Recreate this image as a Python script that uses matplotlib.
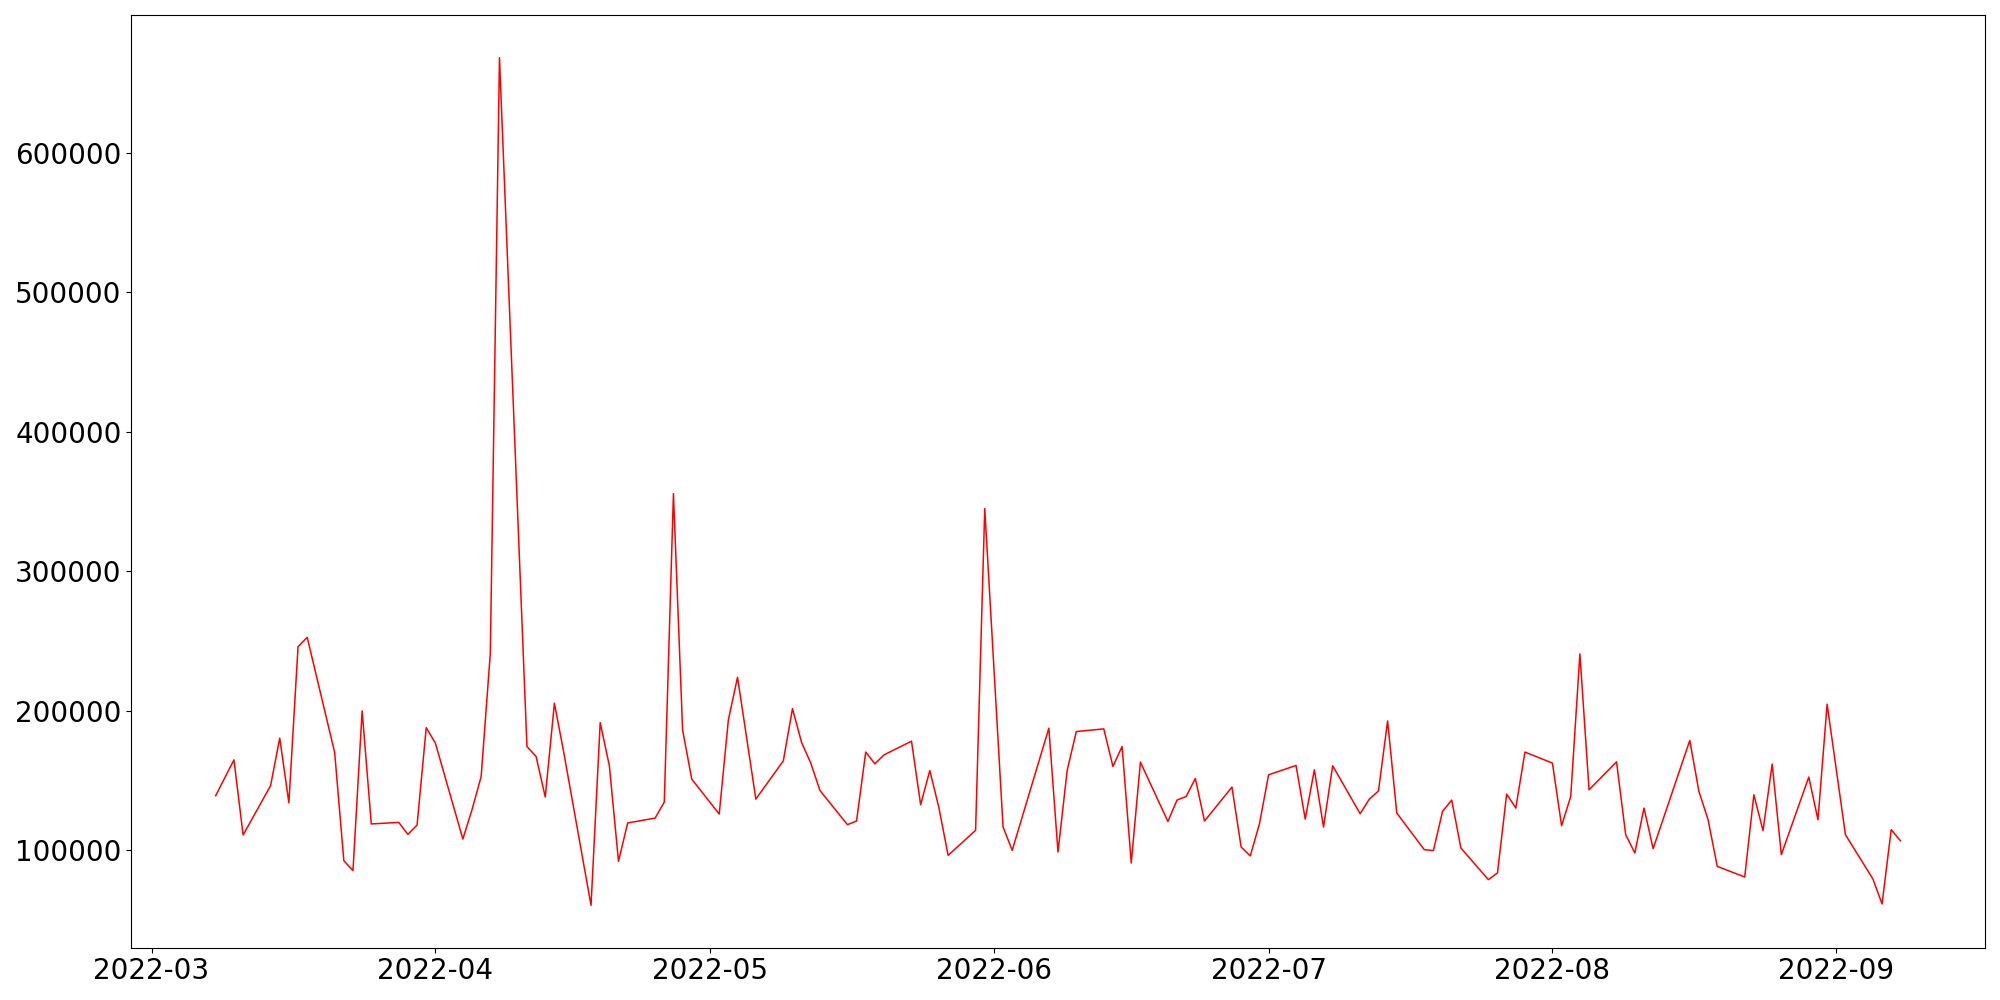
import matplotlib
matplotlib.use("Agg")
import matplotlib.pyplot as plt
import pandas as pd

# fechas y valores
fechas = [
    "2022-03-08", "2022-03-10", "2022-03-11", "2022-03-14", "2022-03-15", "2022-03-16",
    "2022-03-17", "2022-03-18", "2022-03-21", "2022-03-22", "2022-03-23", "2022-03-24",
    "2022-03-25", "2022-03-28", "2022-03-29", "2022-03-30", "2022-03-31", "2022-04-01",
    "2022-04-04", "2022-04-05", "2022-04-06", "2022-04-07", "2022-04-08", "2022-04-11",
    "2022-04-12", "2022-04-13", "2022-04-14", "2022-04-15", "2022-04-18", "2022-04-19",
    "2022-04-20", "2022-04-21", "2022-04-22", "2022-04-25", "2022-04-26", "2022-04-27",
    "2022-04-28", "2022-04-29", "2022-05-02", "2022-05-03", "2022-05-04", "2022-05-06",
    "2022-05-09", "2022-05-10", "2022-05-11", "2022-05-12", "2022-05-13", "2022-05-16",
    "2022-05-17", "2022-05-18", "2022-05-19", "2022-05-20", "2022-05-23", "2022-05-24",
    "2022-05-25", "2022-05-26", "2022-05-27", "2022-05-30", "2022-05-31", "2022-06-02",
    "2022-06-03", "2022-06-07", "2022-06-08", "2022-06-09", "2022-06-10", "2022-06-13",
    "2022-06-14", "2022-06-15", "2022-06-16", "2022-06-17", "2022-06-20", "2022-06-21",
    "2022-06-22", "2022-06-23", "2022-06-24", "2022-06-27", "2022-06-28", "2022-06-29",
    "2022-06-30", "2022-07-01", "2022-07-04", "2022-07-05", "2022-07-06", "2022-07-07",
    "2022-07-08", "2022-07-11", "2022-07-12", "2022-07-13", "2022-07-14", "2022-07-15",
    "2022-07-18", "2022-07-19", "2022-07-20", "2022-07-21", "2022-07-22", "2022-07-25",
    "2022-07-26", "2022-07-27", "2022-07-28", "2022-07-29", "2022-08-01", "2022-08-02",
    "2022-08-03", "2022-08-04", "2022-08-05", "2022-08-08", "2022-08-09", "2022-08-10",
    "2022-08-11", "2022-08-12", "2022-08-16", "2022-08-17", "2022-08-18", "2022-08-19",
    "2022-08-22", "2022-08-23", "2022-08-24", "2022-08-25", "2022-08-26", "2022-08-29",
    "2022-08-30", "2022-08-31", "2022-09-02", "2022-09-05", "2022-09-06", "2022-09-07",
    "2022-09-08",
]

valores = [
    139200, 164900, 111100, 146400, 180500, 134200,
    246000, 252700, 170200, 92700, 85600, 200000,
    119000, 120100, 111500, 118200, 188000, 176900,
    108200, 129200, 153000, 241300, 668000, 174500,
    167300, 138300, 205500, 171000, 60700, 191600,
    160700, 92200, 119700, 123200, 134700, 355700,
    186400, 151100, 126100, 193600, 224100, 136800,
    164200, 201600, 177300, 162600, 143000, 118500,
    121100, 170500, 162100, 168500, 178300, 132800,
    157300, 130400, 96500, 114400, 345000, 116800,
    100100, 187600, 98900, 157300, 185200, 187100,
    160200, 174500, 91000, 163300, 120800, 136100,
    138700, 151600, 121100, 145400, 102500, 96100,
    119000, 154200, 160900, 122500, 157800, 116800,
    160700, 126300, 136800, 142600, 192800, 126800,
    100600, 99900, 128000, 136100, 101800, 79100,
    83900, 140400, 130400, 170500, 162600, 117700,
    138700, 240800, 143500, 163500, 111300, 98200,
    130400, 101300, 178800, 142300, 122000, 88600,
    81000, 139900, 114200, 161900, 97000, 152600,
    122000, 204800, 111300, 79600, 61700, 114900,
    107000,
]

serie = pd.Series(valores, index=pd.to_datetime(fechas))

fig, ax = plt.subplots(figsize=(20, 10), dpi=100)
ax.plot(serie.index, serie.values, color="red", linewidth=1.1)
ax.tick_params(axis="both", labelsize=20)

fig.subplots_adjust(left=0.0657, right=0.9923, top=0.9847, bottom=0.0523)
fig.savefig("out.png", dpi=100)
